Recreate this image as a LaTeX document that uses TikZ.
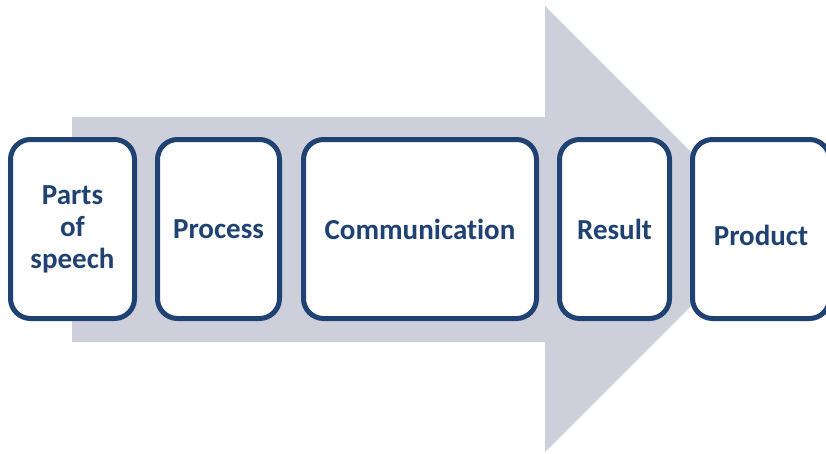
\documentclass[tikz,border=0pt]{standalone}
\usepackage{fontspec}
\setmainfont{Carlito}[RawFeature={-liga}]
\definecolor{arrowgray}{HTML}{CDD0DA}
\definecolor{boxblue}{HTML}{1F4273}
\tikzset{
  stepbox/.style={draw=boxblue, line width=5pt, fill=white, rounded corners=20pt,
    inner sep=0pt, minimum height=179pt, align=center, text=boxblue,
    font=\fontsize{29pt}{32pt}\selectfont\bfseries},
}
\begin{document}
\begin{tikzpicture}[x=1pt,y=-1pt]
\useasboundingbox (0,0) rectangle (826,453);
\clip (0,0) rectangle (826,453);
\fill[arrowgray] (72,117) -- (545,117) -- (545,6) -- (768,229) -- (545,452) -- (545,342) -- (72,342) -- cycle;
\node[stepbox, minimum width=124pt] (b1) at (72.5,229) {Parts\\of\\speech};
\node[stepbox, minimum width=122pt] (b2) at (218.5,229) {Process};
\node[stepbox, minimum width=233pt] (b3) at (420,229) {Communication};
\node[stepbox, minimum width=110pt] (b4) at (614.5,229) {Result};
\node[stepbox, minimum width=137pt] (b5) at (761,229) {\raisebox{-6pt}[\height][\depth]{Product}};
\end{tikzpicture}
\end{document}
